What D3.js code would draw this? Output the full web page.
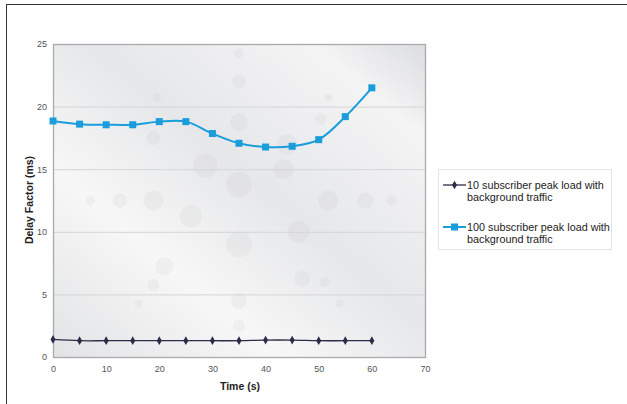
<!DOCTYPE html>
<html>
<head>
<meta charset="utf-8">
<script src="https://cdn.jsdelivr.net/npm/d3@7"></script>
<style>
  body { margin: 0; background: #fff; }
  text { font-family: Arial, "Liberation Sans", sans-serif; }
</style>
</head>
<body>
<div id="chart"></div>
<script>
// 資料
const times = [0, 5, 10, 15, 20, 25, 30, 35, 40, 45, 50, 55, 60];
const sub10 = [1.4, 1.3, 1.3, 1.3, 1.3, 1.3, 1.3, 1.3, 1.35, 1.35, 1.3, 1.3, 1.3];
const sub100 = [18.85, 18.6, 18.55, 18.55, 18.8, 18.8, 17.85, 17.07, 16.77, 16.83, 17.36, 19.2, 21.5];
const xTicks = [0, 10, 20, 30, 40, 50, 60, 70];
const yTicks = [0, 5, 10, 15, 20, 25];
const legendLabels = [
    ["10 subscriber peak load with", "background traffic"],
    ["100 subscriber peak load with", "background traffic"]
];

const W = 627, H = 404;
const margin = { top: 44, left: 53 };
const width = 372, height = 313;

const svg = d3.select("#chart").append("svg")
    .attr("width", W).attr("height", H);

// 外框
svg.append("rect")
    .attr("x", 6.5).attr("y", 4.5)
    .attr("width", W).attr("height", H)
    .attr("fill", "none").attr("stroke", "#333").attr("stroke-width", 1);

const defs = svg.append("defs");
const grad = defs.append("linearGradient").attr("id", "bg")
    .attr("x1", "0").attr("y1", "1").attr("x2", "1").attr("y2", "0");
grad.append("stop").attr("offset", "0").attr("stop-color", "#e2e3e5");
grad.append("stop").attr("offset", "0.3").attr("stop-color", "#f7f7f7");
grad.append("stop").attr("offset", "0.55").attr("stop-color", "#e6e7e9");
grad.append("stop").attr("offset", "0.85").attr("stop-color", "#f4f4f5");
grad.append("stop").attr("offset", "1").attr("stop-color", "#dcdde0");

const g = svg.append("g").attr("transform", `translate(${margin.left},${margin.top})`);

const x = d3.scaleLinear().domain([0, 70]).range([0, width]);
const y = d3.scaleLinear().domain([0, 25]).range([height, 0]);

// 背景
g.append("rect").attr("width", width).attr("height", height)
    .attr("fill", "url(#bg)");

// 背景裝飾圓點（以繪圖區比例定位）
const deco = [
    [0.5, 0.03, 5], [0.5, 0.12, 7], [0.5, 0.25, 9], [0.5, 0.45, 13], [0.5, 0.64, 13],
    [0.5, 0.82, 8], [0.5, 0.9, 6], [0.41, 0.39, 12], [0.63, 0.32, 10], [0.37, 0.55, 11],
    [0.66, 0.6, 11], [0.27, 0.5, 10], [0.74, 0.5, 10], [0.18, 0.5, 7], [0.84, 0.5, 8],
    [0.1, 0.5, 5], [0.91, 0.5, 5], [0.3, 0.71, 9], [0.67, 0.75, 8], [0.27, 0.3, 7],
    [0.72, 0.24, 6], [0.28, 0.17, 4], [0.74, 0.17, 4], [0.27, 0.77, 6], [0.73, 0.76, 5],
    [0.23, 0.83, 4], [0.77, 0.83, 4], [0.62, 0.4, 10]
];
g.append("g").selectAll("circle").data(deco).join("circle")
    .attr("cx", d => d[0] * width).attr("cy", d => d[1] * height).attr("r", d => d[2])
    .attr("fill", "#b8babd").attr("opacity", 0.13);

// 格線
g.append("g").selectAll("line").data(yTicks.filter(t => t > 0 && t < 25)).join("line")
    .attr("x1", 0).attr("x2", width)
    .attr("y1", d => y(d) + 0.5).attr("y2", d => y(d) + 0.5)
    .attr("stroke", "#d4d5d7").attr("stroke-width", 1);

// 邊框
g.append("rect").attr("x", 0.5).attr("y", 0.5).attr("width", width).attr("height", height)
    .attr("fill", "none").attr("stroke", "#a9aaad").attr("stroke-width", 1.3);

// 座標軸
const xAxis = g.append("g").attr("transform", `translate(0,${height})`)
    .call(d3.axisBottom(x).tickValues(xTicks).tickSize(0).tickPadding(9));
xAxis.select(".domain").remove();
xAxis.selectAll("text").attr("font-size", 9).attr("fill", "#555");

const yAxis = g.append("g")
    .call(d3.axisLeft(y).tickValues(yTicks).tickSize(0).tickPadding(6));
yAxis.select(".domain").remove();
yAxis.selectAll("text").attr("font-size", 9).attr("fill", "#555");

// 軸標題
svg.append("text").attr("x", 240).attr("y", 390)
    .attr("text-anchor", "middle").attr("font-size", 10.5).attr("font-weight", "bold")
    .attr("fill", "#222").text("Time (s)");
svg.append("text").attr("transform", "translate(33,200) rotate(-90)")
    .attr("text-anchor", "middle").attr("font-size", 10.5).attr("font-weight", "bold")
    .attr("fill", "#222").text("Delay Factor (ms)");

const dark = "#2c2c48", blue = "#1a9ddc";

// 10 subscriber
const line = d3.line().x((d, i) => x(times[i])).y(d => y(d)).curve(d3.curveCatmullRom);
g.append("path").datum(sub10).attr("d", line)
    .attr("fill", "none").attr("stroke", dark).attr("stroke-width", 1.3);
g.append("g").selectAll("path").data(sub10).join("path")
    .attr("d", d3.symbol(d3.symbolDiamond, 22))
    .attr("transform", (d, i) => `translate(${x(times[i])},${y(d)})`)
    .attr("fill", dark);

// 100 subscriber
g.append("path").datum(sub100).attr("d", line)
    .attr("fill", "none").attr("stroke", blue).attr("stroke-width", 2);
g.append("g").selectAll("rect").data(sub100).join("rect")
    .attr("x", (d, i) => x(times[i]) - 3.5).attr("y", d => y(d) - 3.5)
    .attr("width", 7).attr("height", 7).attr("fill", blue);

// 圖例
const lg = svg.append("g").attr("transform", "translate(438,169)");
lg.append("rect").attr("x", 0.5).attr("y", 0.5).attr("width", 173).attr("height", 80)
    .attr("fill", "#fff").attr("stroke", "#e4e4e4");
legendLabels.forEach((lines, i) => {
    const yy = 16 + i * 42;
    const col = i === 0 ? dark : blue;
    lg.append("line").attr("x1", 5).attr("x2", 28).attr("y1", yy).attr("y2", yy)
        .attr("stroke", col).attr("stroke-width", i === 0 ? 1.3 : 2);
    if (i === 0) {
        lg.append("path").attr("d", d3.symbol(d3.symbolDiamond, 22))
            .attr("transform", `translate(16.5,${yy})`).attr("fill", col);
    } else {
        lg.append("rect").attr("x", 13).attr("y", yy - 3.5).attr("width", 7).attr("height", 7)
            .attr("fill", col);
    }
    lines.forEach((t, j) => {
        lg.append("text").attr("x", 29).attr("y", yy + 4 + j * 12)
            .attr("font-size", 10.8).attr("fill", "#222").text(t);
    });
});
</script>
</body>
</html>
